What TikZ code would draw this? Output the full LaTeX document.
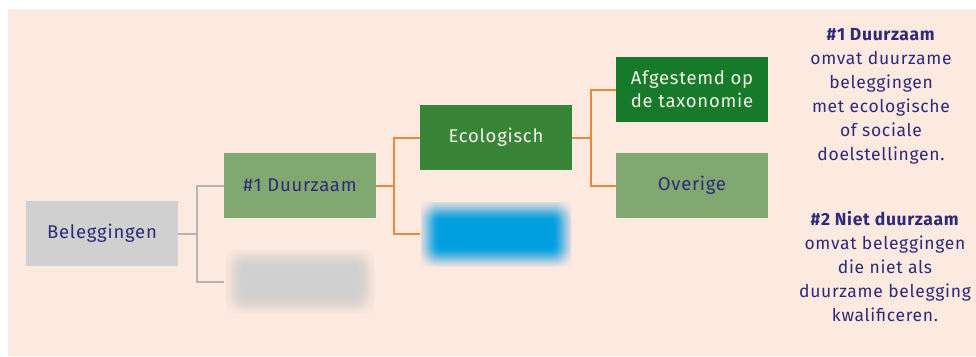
\documentclass[tikz,border=0pt]{standalone}
\usepackage{fontspec}
\setmainfont{Fira Sans}[LetterSpace=4]
\definecolor{peach}{HTML}{FCE9E0}
\definecolor{navy}{HTML}{2E2A78}
\definecolor{boxgray}{HTML}{D0D0D0}
\definecolor{lightgreen}{HTML}{80A870}
\definecolor{midgreen}{HTML}{388538}
\definecolor{darkgreen}{HTML}{167A2A}
\definecolor{orangeline}{HTML}{E8893A}
\definecolor{grayline}{HTML}{B4B4B4}
\definecolor{blurblue}{HTML}{009FE0}
\definecolor{paletext}{HTML}{F2F2E6}
\tikzset{
  box/.style={minimum width=152pt, minimum height=65pt, inner sep=0pt, align=center,
    font=\fontsize{18.5}{23}\selectfont},
  graybox/.style={box, fill=boxgray, text=navy},
  lgbox/.style={box, fill=lightgreen, text=navy},
  mgbox/.style={box, fill=midgreen, text=paletext},
  dgbox/.style={box, fill=darkgreen, text=paletext},
  ghost/.style={box},
  glink/.style={draw=grayline, line width=2pt},
  olink/.style={draw=orangeline, line width=2pt},
  note/.style={align=center, text=navy, font=\fontsize{17.5}{24}\selectfont, inner sep=0pt}
}
% blurred rectangle: cx cy core-hw core-hh color clip-hw clip-hh ; smoothstep fade over 24 layers
\newcommand{\blurrect}[7]{%
  \begin{scope}
  \clip ({#1-#6},{#2-#7}) rectangle ({#1+#6},{#2+#7});
  \fill[#5, opacity=0.04] ({#1-#6},{#2-#7}) rectangle ({#1+#6},{#2+#7});
  \foreach \k in {1,...,24}{
    \pgfmathsetmacro\ta{(\k-1)/24}
    \pgfmathsetmacro\tb{\k/24}
    \pgfmathsetmacro\ca{3*\ta*\ta-2*\ta*\ta*\ta}
    \pgfmathsetmacro\cb{3*\tb*\tb-2*\tb*\tb*\tb}
    \pgfmathsetmacro\op{1-(1-\cb)/(1-\ca)}
    \pgfmathsetmacro\ext{(24-\k)*1.0}
    \fill[#5, opacity=\op, rounded corners={2pt+0.8*\ext pt}]
      ({#1-#3-\ext},{#2-#4-\ext}) rectangle ({#1+#3+\ext},{#2+#4+\ext});
  }
  \end{scope}
}
\begin{document}
\begin{tikzpicture}[x=1pt,y=-1pt]
\useasboundingbox (0,0) rectangle (976,356);
\fill[peach] (8,9) rectangle (976,356);
% nodes
\node[graybox] (bel) at (102,233.5) {Beleggingen};
\node[lgbox] (duur) at (300,185.5) {\#1 Duurzaam};
\node[ghost] (grayblur) at (300,282) {};
\node[mgbox] (eco) at (496,137.5) {Ecologisch};
\node[ghost] (blueblur) at (496,233.5) {};
\node[dgbox] (afg) at (692,89.5) {Afgestemd op\\de taxonomie};
\node[lgbox] (ove) at (692,185.5) {Overige};
% blurred boxes
\blurrect{300}{281.5}{54}{11.5}{boxgray}{74}{32}
\blurrect{496}{234}{56}{12.5}{blurblue}{75}{32}
% connectors
\draw[glink] (bel.east) -- ++(19,0) coordinate (gj) |- (duur.west);
\draw[glink] (gj) |- (grayblur.west);
\draw[olink] (duur.east) -- ++(18,0) coordinate (oj1) |- (eco.west);
\draw[olink] (oj1) |- (blueblur.west);
\draw[olink] (eco.east) -- ++(19,0) coordinate (oj2) |- (afg.west);
\draw[olink] (oj2) |- (ove.west);
% notes
\node[note, anchor=north] (n1) at (881,28) {\textbf{\#1 Duurzaam}\\omvat duurzame\\beleggingen\\met ecologische\\of sociale\\doelstellingen.};
\node[note, anchor=north] (n2) at (885,211) {\textbf{\#2 Niet duurzaam}\\omvat beleggingen\\die niet als\\duurzame belegging\\kwalificeren.};
\end{tikzpicture}
\end{document}
